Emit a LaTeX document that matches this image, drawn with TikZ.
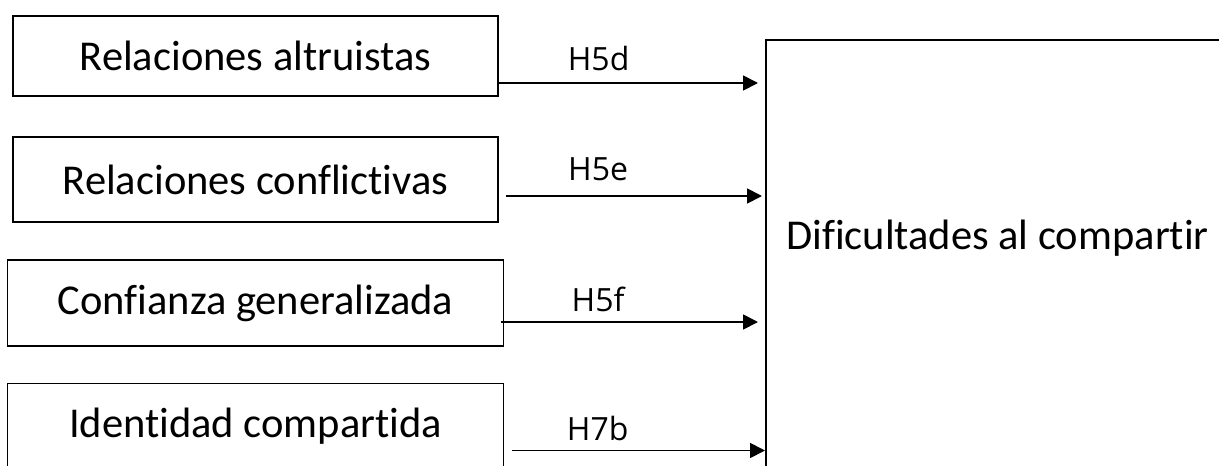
\documentclass[tikz,border=0pt]{standalone}
\usepackage{fontspec}
\setmainfont[Ligatures=NoCommon]{Carlito}
\newfontfamily\hypfont{Open Sans}
\usetikzlibrary{arrows.meta,positioning}

\begin{document}
\begin{tikzpicture}[%
    x=1pt, y=-1pt,
    node distance=123.5pt,
    on grid,
    var/.style={draw, line width=1.6pt, minimum height=82pt, inner sep=0pt,
        font=\fontsize{42.5}{50}\selectfont},
    link/.style={-{Triangle[length=15pt,width=15pt]}, line width=1.8pt},
    hyp/.style={above=11pt, inner sep=0pt, font=\hypfont\fontsize{32}{38}\selectfont}
    ]

    \useasboundingbox (0,0) rectangle (1219,466);

    \node[var, minimum width=485pt, minimum height=80pt] (B1) at (255.5,56) {Relaciones altruistas};
    \node[var, minimum width=485pt, minimum height=85pt] (B2) [below=of B1] {Relaciones conflictivas};
    \node[var, minimum width=496pt, minimum height=86pt] (B3) [below=of B2] {Confianza generalizada};
    \node[var, minimum width=496pt, minimum height=86pt] (B4) [below=of B3] {Identidad compartida};

    \node[draw, line width=1.6pt, minimum width=480pt, minimum height=442pt, anchor=north west] (dif) at (765,39) {};
    \node[font=\fontsize{42.5}{50}\selectfont] (diftext) at (997.5,238) {Dificultades al compartir};

    \draw[link, shorten >=7pt] ([yshift=-27pt]B1.east) -- ([yshift=-27pt]B1.east -| dif.west) node[hyp, pos=.375] {H5d};
    \draw[link, shorten >=3pt] ([xshift=7pt,yshift=-16.5pt]B2.east) -- ([yshift=-16.5pt]B2.east -| dif.west) node[hyp, pos=.356, above=14pt] {H5e};
    \draw[link, shorten >=7pt] ([xshift=-3pt,yshift=-19pt]B3.east) -- ([yshift=-19pt]B3.east -| dif.west) node[hyp, pos=.367, above=9pt] {H5f};
    \draw[link] ([xshift=8pt,yshift=-24pt]B4.east) -- ([yshift=-24pt]B4.east -| dif.west) node[hyp, pos=.338, above=9pt] {H7b};

\end{tikzpicture}
\end{document}
